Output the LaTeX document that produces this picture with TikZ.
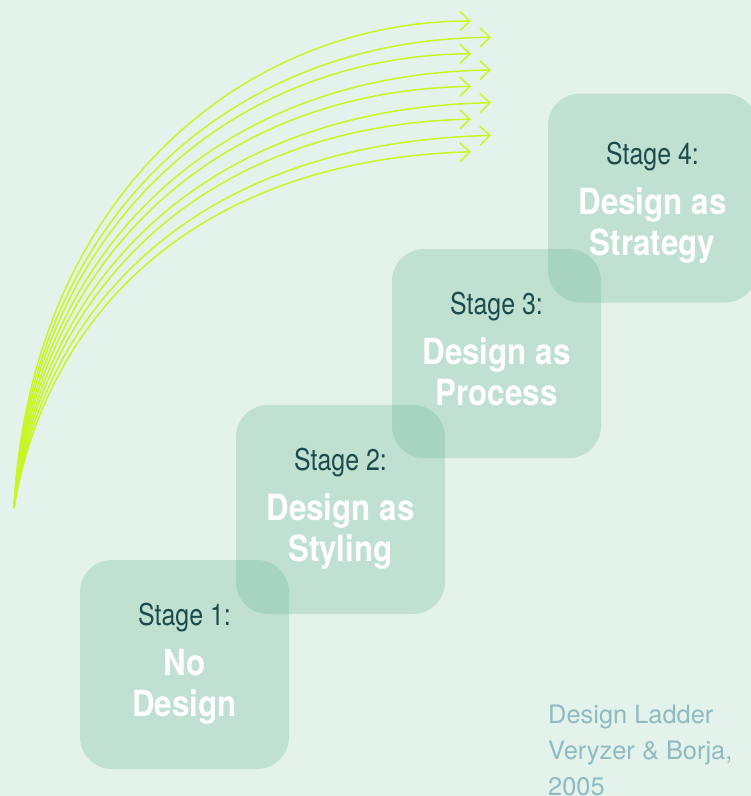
\documentclass[tikz,border=0pt]{standalone}
\usepackage{fontspec}
\setmainfont{TeX Gyre Heros}
\newfontfamily\stagefont[FakeStretch=0.83]{TeX Gyre Heros}
\newfontfamily\titlefont[FakeStretch=0.87]{TeX Gyre Heros}
\definecolor{FondMenthe}{HTML}{E4F2EC}
\definecolor{BoiteMenthe}{HTML}{6FB999}
\definecolor{TexteSombre}{HTML}{1D4A4A}
\definecolor{FlecheCitron}{HTML}{C8F526}
\definecolor{SourceGris}{HTML}{8FBAC1}
\usetikzlibrary{arrows.meta}
\usetikzlibrary{calc}
\tikzset{
	stagebox/.style={rectangle, rounded corners=32pt, minimum width=209pt, minimum height=209pt, inner sep=0pt, fill=BoiteMenthe, fill opacity=0.3},
	stagelbl/.style={anchor=base, inner sep=0pt, text=TexteSombre, font=\stagefont\fontsize{30}{30}\selectfont},
	stagetitle/.style={anchor=base, inner sep=0pt, text=white, font=\titlefont\bfseries\fontsize{36}{36}\selectfont},
	sourcetxt/.style={anchor=base west, inner sep=0pt, text=SourceGris, font=\fontsize{25.4}{25.4}\selectfont}
}
\begin{document}
\begin{tikzpicture}[x=1pt, y=-1pt]
	\fill[FondMenthe] (0,0) rectangle (751,796);
	\useasboundingbox (0,0) rectangle (751,796);
	%
	%Fleches
	\coordinate (depart) at (14,508);
	\foreach \i in {0,...,8}{
		\pgfmathsetmacro{\t}{\i/8}
		\pgfmathsetmacro{\bx}{471+20*mod(\i,2)}
		\pgfmathsetmacro{\by}{21+16.35*\i}
		\coordinate (bout\i) at (\bx,\by);
		\draw[-{Straight Barb[length=10pt, width=19pt]}, line width=1.5pt, FlecheCitron] (depart) .. controls ({30+15*\t},{200+120*\t}) and ({240-50*\t},{21+139*\t}) .. (bout\i);
	}
	%
	%Marches
	\foreach \n/\cx/\cy/\dy/\la/\lb in {1/184.5/664.5/0/No/Design, 2/340.5/509.5/0/Design as/Styling, 3/496.5/353.5/0/Design as/Process, 4/652.5/198/5.5/Design as/Strategy}{
		\node[stagebox] at (\cx,\cy) (B\n) {};
		\node[stagelbl] at ($(B\n.center)+(0,-39.5+\dy)$) (L\n) {Stage \n:};
		\node[stagetitle] at ($(B\n.center)+(0,10.5+\dy)$) (Ta\n) {\la};
		\node[stagetitle] at ($(B\n.center)+(0,51.5+\dy)$) (Tb\n) {\lb};
	}
	%
	%Source
	\node[sourcetxt] at (548,723) (F1) {Design Ladder};
	\node[sourcetxt] at (548,759) (F2) {Veryzer \& Borja,};
	\node[sourcetxt] at (548,795) (F3) {2005};
\end{tikzpicture}
\end{document}
